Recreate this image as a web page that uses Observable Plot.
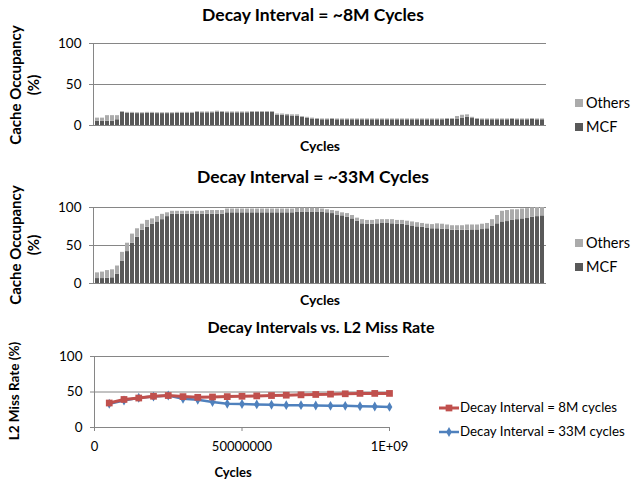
<!DOCTYPE html>
<html><head><meta charset="utf-8">
<script src="https://cdn.jsdelivr.net/npm/d3@7"></script>
<script src="https://cdn.jsdelivr.net/npm/@observablehq/plot@0.6"></script>
<style>
body{margin:0;background:#fff;font-family:Lato,"Open Sans",sans-serif;color:#000;}
#wrap{position:relative;width:639px;height:489px;overflow:hidden;background:#fff;}
.abs{position:absolute;white-space:nowrap;line-height:1;}
.ctr{transform:translate(-50%,-50%);}
.rot{transform:translate(-50%,-50%) rotate(-90deg);}
.b{font-weight:bold;}
.plot{position:absolute;left:0;}
.sq{position:absolute;width:8px;height:8px;}
</style></head><body><div id="wrap"></div>
<script>
// ---------- data ----------
const seriesNames = ["MCF", "Others"];
const barColors = ["#595959", "#ABABAB"];

// Decay interval ~8M cycles (90 samples)
const mcf8 = [5,5,5,5,7,16, 15,15,14.5,14.5,15,15,14.5,14.5,14.5,14.5,15,15,15,15, 16, 15.5,15.5,15.5, 16.5, 16,15.5,15.5,15.5,15.5,15.5, 16,16,16,16,16, 12.5,12.5,12,11.5,11.5, 10,9,8, 7.5,7,7,7.5,7,7,7,7,7,7,7,7,7,7,7,7,7,7,7,7,7,7,7,7,7,7,7.5,7.5, 8,9,10,8.5, 7.5,7,7,7,7,7,7,7.5,7,7,7,7.5,7,7];
const others8 = [4,4,7,7,5,1, 1,1,1,1,1,1,1,1,1,1,1,1,1,1, 1, 1,1,1, 1, 1,1,1,1,1,1, 1,1,1,1,1, 1.5,1.5,1.5,1.5,1.5, 1,1,1, 1,1,1,1,1,1,1,1,1,1,1,1,1,1,1,1,1,1,1,1,1,1,1,1,1,1,1,1, 3,3.5,3,1.5, 1,1,1,1,1,1,1,1,1,1,1,1,1,1];

// Decay interval ~33M cycles (90 samples)
const mcf33 = [6.5,6.5,7,7.5,12,29,42,53,61,70,74,78,81,84,88,91, 91,91,91,91,91,91, 91,91,91,91, 93,93,93,93,93,93,93,93,93,93,93,93,93,93, 94,94,94,94,94, 94,93,92,90,89,87,85,82,78.5,78,78,78.5,79,79,78.5,78,78,77,75,74.5,74,73,72, 72,71.5,71,70,70,70,70,70.5,70.5,71,72,75,78.5,81,81.5,83,84,85,85.5,87,88,89];
const others33 = [7.5,8.5,10,10.5,11,12,11,12,11,8,9,7,7,7,5,4, 4,4,4,4,4,4, 5,5,5,5, 5,5,5,5,5,5,5,5,5,5,5,5,5,5, 5,5,5,5,5, 4,4,4,5,4,5,4.5,4,5.5,5,5,5.5,5,5,5.5,5,5,5,6,5.5,5,5,5.5, 6.5,6.5,6,6,6,6,7,6.5,6.5,7,7,9,11,14,14.5,14,13,13,13,12.5,12,11];

// L2 miss rate vs cycles
const cycles = [50000000,100000000,150000000,200000000,250000000,300000000,350000000,400000000,450000000,500000000,550000000,600000000,650000000,700000000,750000000,800000000,850000000,900000000,950000000,1000000000];
const miss8M = [34.5,39.5,41.5,44,45,43.5,42.5,43,43.5,44,44.5,45,45.5,46,46.5,47,47.5,48,48,48];
const miss33M = [33.5,38,42,43.5,45,40.5,39,36,33.5,33,32.5,32,31.5,31.5,31,30.5,30.5,30,29.5,29];
const lineNames = ["Decay Interval = 8M cycles", "Decay Interval = 33M cycles"];
const lineColors = ["#C0504D", "#4F81BD"];
const yTicks = [0, 50, 100];
const xTicks = [0, 500000000, 1000000000];
const xTickLabels = ["0", "50000000", "1E+09"];

// ---------- helpers ----------
const wrap = document.getElementById("wrap");
function addText(txt, x, y, cls, size){
  const d = document.createElement("div");
  d.className = "abs " + cls;
  d.textContent = txt;
  d.style.left = x + "px"; d.style.top = y + "px"; d.style.fontSize = size + "px";
  wrap.appendChild(d); return d;
}
const gridC = "#868686";
const plotStyle = {fontFamily:"Lato", fontSize:"13px", background:"transparent", overflow:"visible", color:"#000"};

function barPanel(mcf, oth, top, height, mTop, mBottom){
  const rows = [];
  mcf.forEach((v,i)=>rows.push({i, s:seriesNames[0], v}));
  oth.forEach((v,i)=>rows.push({i, s:seriesNames[1], v}));
  const svg = Plot.plot({
    width:639, height, marginTop:mTop, marginBottom:mBottom, marginLeft:93, marginRight:93,
    style: plotStyle,
    x:{type:"band", domain:d3.range(mcf.length), paddingInner:0.28, paddingOuter:0.15, axis:null},
    y:{domain:[0,100]},
    color:{domain:seriesNames, range:barColors},
    marks:[
      Plot.gridY([50,100], {stroke:gridC, strokeOpacity:1}),
      Plot.barY(rows, {x:"i", y:"v", fill:"s"}),
      Plot.ruleY([0], {stroke:gridC}),
      Plot.frame({anchor:"left", stroke:gridC}),
      Plot.axisY({ticks:yTicks, tickSize:4, tickPadding:8, stroke:gridC, fill:"#000", label:null, fontSize:13.5})
    ]
  });
  svg.classList.add("plot"); svg.style.top = top + "px";
  wrap.appendChild(svg);
}

// ---------- panel 1 ----------
barPanel(mcf8, others8, 0, 160, 43, 35);
addText("Decay Interval = ~8M Cycles", 313, 15, "ctr b", 17.5);
addText("Cycles", 320, 146, "ctr b", 14);
addText("Cache Occupancy", 15, 85, "rot b", 15);
addText("(%)", 33, 85, "rot b", 15);

// ---------- panel 2 ----------
barPanel(mcf33, others33, 160, 135, 47, 12);
addText("Decay Interval = ~33M Cycles", 313, 177, "ctr b", 17.5);
addText("Cycles", 320, 300, "ctr b", 14);
addText("Cache Occupancy", 15, 245, "rot b", 15);
addText("(%)", 33, 245, "rot b", 15);

// bar legends
[[103,127],[243,267]].forEach(([yO,yM])=>{
  [[yO,1],[yM,0]].forEach(([y,k])=>{
    const s = document.createElement("div");
    s.className = "sq"; s.style.left="575px"; s.style.top=(y-4)+"px"; s.style.background = barColors[k];
    wrap.appendChild(s);
    addText(seriesNames[k], 586, y-7.5, "", 14.5);
  });
});

// ---------- panel 3 ----------
const lrows = [];
cycles.forEach((c,i)=>{ lrows.push({c, v:miss8M[i], s:lineNames[0]}); });
cycles.forEach((c,i)=>{ lrows.push({c, v:miss33M[i], s:lineNames[1]}); });
const svg3 = Plot.plot({
  width:639, height:159, marginTop:26, marginBottom:62, marginLeft:94, marginRight:250,
  style: plotStyle,
  x:{domain:[0,1000000000]},
  y:{domain:[0,100]},
  color:{domain:lineNames, range:lineColors},
  marks:[
    Plot.gridY([50,100], {stroke:gridC, strokeOpacity:1}),
    Plot.ruleY([0], {stroke:gridC}),
    Plot.ruleX([0], {stroke:gridC}),
    Plot.axisY({ticks:yTicks, tickSize:4, tickPadding:8, stroke:gridC, fill:"#000", label:null, fontSize:13.5}),
    Plot.axisX({ticks:xTicks, tickFormat:(d,i)=>xTickLabels[i], tickSize:4, tickPadding:10, stroke:gridC, fill:"#000", label:null, fontSize:13}),
    Plot.line(lrows.filter(d=>d.s===lineNames[1]), {x:"c", y:"v", stroke:lineColors[1], strokeWidth:2.5}),
    Plot.dot(lrows.filter(d=>d.s===lineNames[1]), {x:"c", y:"v", fill:lineColors[1], symbol:"diamond", r:3}),
    Plot.line(lrows.filter(d=>d.s===lineNames[0]), {x:"c", y:"v", stroke:lineColors[0], strokeWidth:3}),
    Plot.dot(lrows.filter(d=>d.s===lineNames[0]), {x:"c", y:"v", fill:lineColors[0], symbol:"square", r:3.8})
  ]
});
svg3.classList.add("plot"); svg3.style.top = "330px";
wrap.appendChild(svg3);
addText("Decay Intervals vs. L2 Miss Rate", 321, 327, "ctr b", 16);
addText("Cycles", 233, 472, "ctr b", 13);
addText("L2 Miss Rate (%)", 15, 391, "rot b", 13.5);

// line legend
[[408,0,"square"],[432,1,"diamond"]].forEach(([y,k,sym])=>{
  const ns = "http://www.w3.org/2000/svg";
  const s = document.createElementNS(ns,"svg");
  s.setAttribute("width","20"); s.setAttribute("height","12");
  s.style.position="absolute"; s.style.left="439px"; s.style.top=(y-6)+"px";
  const l = document.createElementNS(ns,"line");
  l.setAttribute("x1",0); l.setAttribute("x2",20); l.setAttribute("y1",6); l.setAttribute("y2",6);
  l.setAttribute("stroke",lineColors[k]); l.setAttribute("stroke-width", k===0?3:2.5);
  s.appendChild(l);
  const p = document.createElementNS(ns,"path");
  p.setAttribute("d", d3.symbol(sym==="square"?d3.symbolSquare:d3.symbolDiamond, sym==="square"?45:28)());
  p.setAttribute("transform","translate(10,6)"); p.setAttribute("fill",lineColors[k]);
  s.appendChild(p);
  wrap.appendChild(s);
  addText(lineNames[k], 460, y-7, "", 13.3);
});
</script></body></html>
